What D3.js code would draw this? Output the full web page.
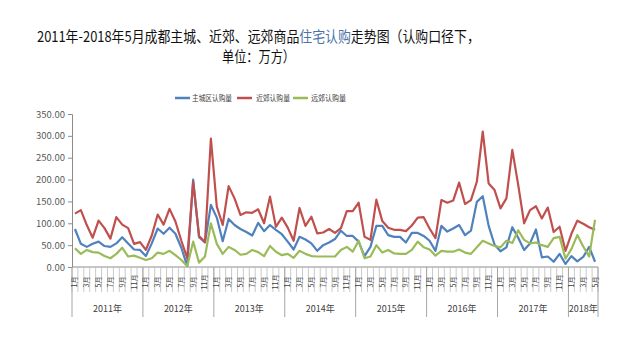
<!DOCTYPE html>
<html><head><meta charset="utf-8">
<script src="https://cdn.jsdelivr.net/npm/d3@7"></script>
<style>
body{margin:0;background:#fff;}
svg{display:block;}
text{font-family:"Noto Sans CJK SC","Noto Sans",sans-serif;}
</style></head>
<body><svg id="c" width="640" height="360"></svg>
<script>
const years = ["2011年","2012年","2013年","2014年","2015年","2016年","2017年","2018年"];
const monthsPerYear = [12,12,12,12,12,12,12,5];
const yTicks = [0,50,100,150,200,250,300,350];
const seriesNames = ["主城区认购量","近郊认购量","远郊认购量"];
const seriesColors = ["#4F81BD","#C0504D","#9BBB59"];
const mainCity = [87,53,46,53,58,48,46,54,68,54,40,39,
  25,54,88,76,90,76,44,2,200,68,56,142,
  113,59,110,96,87,80,72,101,82,96,85,75,
  58,40,69,63,54,37,50,56,64,83,71,71,
  58,25,46,94,94,73,69,69,56,78,78,71,
  60,37,94,81,88,96,73,83,149,162,94,51,
  36,45,91,67,39,54,86,22,24,12,30,7,
  25,13,23,46,12];
const nearSuburb = [122,130,96,67,106,89,65,114,97,89,53,57,
  39,72,120,97,133,104,60,20,195,71,57,294,
  138,96,185,157,119,125,124,132,100,161,92,113,
  90,60,135,94,115,77,79,87,78,89,128,128,
  147,69,62,154,105,90,85,85,82,95,113,114,
  88,66,153,147,152,193,144,153,195,310,191,176,
  134,157,268,188,100,130,139,111,136,80,92,37,
  76,106,99,91,85];
const farSuburb = [43,30,39,34,33,25,20,30,44,24,26,21,
  16,20,33,30,37,27,16,2,58,10,24,100,
  53,30,46,39,28,30,39,34,25,48,35,27,
  30,21,37,30,25,24,24,24,24,39,46,35,
  60,20,24,50,33,39,31,30,30,39,58,45,
  40,26,37,35,35,40,33,30,45,60,54,48,
  45,60,55,84,62,54,56,50,46,66,69,19,
  41,73,47,24,108];

const categories = [];
years.forEach((y,yi)=>{ for(let m=1;m<=monthsPerYear[yi];m++) categories.push({year:y, month:m, label:m+"月"}); });
const idx = categories.map((d,i)=>i);
const series = [mainCity, nearSuburb, farSuburb];

const svg = d3.select("#c");
const L=72, R=598, T=114, B=267;
const x = d3.scaleBand().domain(idx).range([L,R]).padding(0);
const y = d3.scaleLinear().domain([0,350]).range([B,T]);

function fitText(sel, x0, w, sy){
  const n = sel.node(); const bw = n.getComputedTextLength();
  const by = +sel.attr("data-y");
  sel.attr("x",0).attr("y",0).attr("transform",`translate(${x0},${by}) scale(${w/bw},${sy||1})`);
}

// title
const t1 = svg.append("text").attr("data-y",41.5).attr("font-size",13.5).attr("fill","#111");
t1.append("tspan").text("2011年-2018年5月成都主城、近郊、远郊商品");
t1.append("tspan").attr("fill","#4a72a8").text("住宅认购");
t1.append("tspan").text("走势图（认购口径下，");
fitText(t1,37,443,1.12);
const t2 = svg.append("text").attr("data-y",61.5).attr("font-size",13.5).attr("fill","#111").text("单位：万方）");
fitText(t2,222,73,1.12);

// legend
const legX = [[175,192,232],[237,256,290],[293,311,346]];
seriesNames.forEach((n,i)=>{
  svg.append("line").attr("x1",legX[i][0]).attr("x2",legX[i][0]+15).attr("y1",98).attr("y2",98)
    .attr("stroke",seriesColors[i]).attr("stroke-width",2.5);
  const tt = svg.append("text").attr("data-y",101).attr("font-size",8).attr("fill","#404040").text(n);
  fitText(tt,legX[i][1],legX[i][2]-legX[i][1]);
});

// y axis
const axisColor = "#8c8c8c";
const yAxis = d3.axisLeft(y).tickValues(yTicks).tickFormat(d=>d3.format(".2f")(d)).tickSize(4).tickPadding(3);
const gy = svg.append("g").attr("transform",`translate(${L},0)`).call(yAxis);
gy.select(".domain").attr("stroke",axisColor);
gy.selectAll(".tick line").attr("stroke",axisColor);
gy.selectAll(".tick text").attr("font-size",9.5).attr("fill","#595959").attr("font-family","'DejaVu Sans Condensed','Liberation Sans',sans-serif");

// x axis baseline
svg.append("line").attr("x1",L).attr("x2",R).attr("y1",B).attr("y2",B).attr("stroke",axisColor);
// category separators
const bounds = idx.map(i=>x(i)).concat([R]);
svg.append("g").selectAll("line").data(bounds).join("line")
  .attr("x1",d=>d).attr("x2",d=>d).attr("y1",B).attr("y2",292)
  .attr("stroke","#bdbdbd").attr("stroke-width",0.8);
// year separators
const yearStarts = [];
let acc=0; years.forEach((yy,yi)=>{ yearStarts.push({year:yy,start:acc,end:acc+monthsPerYear[yi]}); acc+=monthsPerYear[yi]; });
const yb = yearStarts.map(d=>x(d.start)).concat([R]);
svg.append("g").selectAll("line").data(yb).join("line")
  .attr("x1",d=>d).attr("x2",d=>d).attr("y1",B).attr("y2",317)
  .attr("stroke","#a6a6a6").attr("stroke-width",1);
// month labels
svg.append("g").selectAll("text").data(categories.filter(d=>d.month%2===1)).join("text")
  .attr("transform",d=>{const i=categories.indexOf(d); return `translate(${x(i)+x.bandwidth()/2+2.5},282) rotate(-90)`;})
  .attr("text-anchor","middle").attr("font-size",7).attr("fill","#404040").text(d=>d.label);
// year labels
svg.append("g").selectAll("text").data(yearStarts).join("text")
  .attr("x",d=>(x(d.start)+(d.end<idx.length?x(d.end):R))/2).attr("y",312)
  .attr("text-anchor","middle").attr("font-size",9).attr("fill","#404040").text(d=>d.year);

// lines
const line = d3.line().x((d,i)=>x(i)+x.bandwidth()/2).y(d=>y(d));
series.forEach((s,si)=>{
  svg.append("path").datum(s).attr("d",line).attr("fill","none")
    .attr("stroke",seriesColors[si]).attr("stroke-width",2.2).attr("stroke-linejoin","round");
});
</script></body></html>
